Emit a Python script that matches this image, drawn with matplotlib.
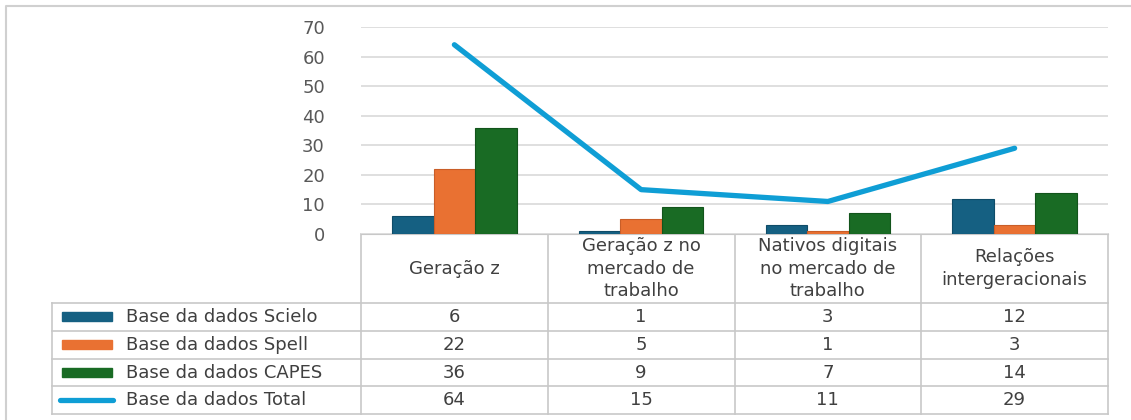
import matplotlib.pyplot as plt
import numpy as np

# data
categories = ["Geração z", "Geração z no\nmercado de\ntrabalho",
              "Nativos digitais\nno mercado de\ntrabalho", "Relações\nintergeracionais"]
series_names = ["Base da dados Scielo", "Base da dados Spell",
                "Base da dados CAPES", "Base da dados Total"]
scielo = [6, 1, 3, 12]
spell = [22, 5, 1, 3]
capes = [36, 9, 7, 14]
total = [64, 15, 11, 29]

bar_colors = ["#156082", "#E97132", "#196B24"]
bar_edges = ["#0F4C68", "#C95E28", "#12541B"]
line_color = "#0F9ED5"
grid_col = "#D9D9D9"
border_col = "#C8C8C8"
text_col = "#404040"

plt.rcParams['font.family'] = ['DejaVu Sans']
fs = 13

W, H = 1131, 420
fig = plt.figure(figsize=(W / 100, H / 100), dpi=100)

# plot area in pixels
px_left, px_right = 361, 1108
px_top, px_zero = 27, 234

ax = fig.add_axes([px_left / W, 1 - px_zero / H,
                   (px_right - px_left) / W, (px_zero - px_top) / H])
x = np.arange(len(categories))
bw = 0.222
for i, vals in enumerate([scielo, spell, capes]):
    ax.bar(x + (i - 1) * bw, vals, bw, color=bar_colors[i],
           edgecolor=bar_edges[i], linewidth=0.8, zorder=3)
ax.plot(x, total, color=line_color, lw=3.8, solid_capstyle='round', zorder=4)

ax.set_xlim(-0.5, len(categories) - 0.5)
ax.set_ylim(0, 70)
ax.set_yticks(range(0, 71, 10))
ax.yaxis.grid(True, color=grid_col, lw=1.2)
ax.set_axisbelow(True)
ax.set_xticks([])
for s in ["top", "right", "left"]:
    ax.spines[s].set_visible(False)
ax.spines["bottom"].set_color(border_col)
ax.tick_params(axis='y', length=0, pad=26, labelsize=fs, labelcolor="#595959")

# data table drawn on an overlay axes in pixel units
tab = fig.add_axes([0, 0, 1, 1], zorder=-1)
tab.set_xlim(0, W)
tab.set_ylim(H, 0)
tab.axis("off")

col_w = (px_right - px_left) / len(categories)
col_edges = [px_left + k * col_w for k in range(len(categories) + 1)]
col_mid = [px_left + (k + 0.5) * col_w for k in range(len(categories))]
leg_left = 52
header_bot = 303
row_h = 27.8
row_edges = [header_bot + k * row_h for k in range(len(series_names) + 1)]

lkw = dict(color=border_col, lw=1.2)
for xe in col_edges:
    tab.plot([xe, xe], [px_zero, row_edges[-1]], **lkw)
tab.plot([leg_left, leg_left], [header_bot, row_edges[-1]], **lkw)
for ye in row_edges:
    tab.plot([leg_left, px_right], [ye, ye], **lkw)

for c, name in enumerate(categories):
    tab.text(col_mid[c], (px_zero + header_bot) / 2, name, ha="center", va="center",
             fontsize=fs, color=text_col, linespacing=1.3)

all_vals = [scielo, spell, capes, total]
for r, name in enumerate(series_names):
    yc = (row_edges[r] + row_edges[r + 1]) / 2
    if r < 3:
        tab.add_patch(plt.Rectangle((62, yc - 4.5), 50, 9, color=bar_colors[r]))
    else:
        tab.plot([60, 113], [yc, yc], color=line_color, lw=3.8, solid_capstyle='round')
    tab.text(126, yc, name, ha="left", va="center", fontsize=fs, color=text_col)
    for c, v in enumerate(all_vals[r]):
        tab.text(col_mid[c], yc, str(v), ha="center", va="center", fontsize=fs, color=text_col)

# outer frame of the chart (left and top edges visible)
tab.plot([6, 6, W], [H, 6, 6], color="#D0D0D0", lw=1.5)

fig.savefig("out.png", dpi=100, facecolor="white")
